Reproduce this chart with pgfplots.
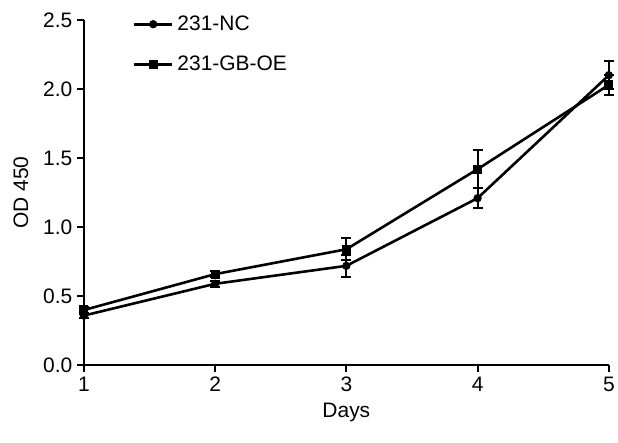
\documentclass[border=0pt]{standalone}
\usepackage{pgfplots}
\pgfplotsset{compat=1.18}
\usepackage{fontspec}
\setmainfont{Liberation Sans}
\begin{document}
\begin{tikzpicture}
\begin{axis}[
  scale only axis,
  width=526pt, height=346pt,
  xmin=1, xmax=5, ymin=0, ymax=2.5,
  axis x line*=bottom, axis y line*=left,
  axis line style={-, line width=2.2pt},
  tick align=outside,
  xtick pos=bottom, ytick pos=left,
  major tick length=7pt,
  every tick/.style={black, line width=2pt},
  xtick={1,2,3,4,5},
  ytick={0,0.5,1,1.5,2,2.5},
  /pgf/number format/assume math mode=true,
  yticklabel style={xshift=-1pt, /pgf/number format/fixed, /pgf/number format/fixed zerofill, /pgf/number format/precision=1},
  xticklabel style={yshift=-1pt},
  tick label style={font=\fontsize{21}{24}\selectfont},
  every axis x label/.style={at={(rel axis cs:0.5,0)}, anchor=center, yshift=-47pt, font=\fontsize{21}{24}\selectfont},
  every axis y label/.style={at={(rel axis cs:0,0.5)}, xshift=-63pt, anchor=center, rotate=90, font=\fontsize{21}{24}\selectfont},
  xlabel={Days},
  ylabel={OD 450},
  clip=false,
  legend style={draw=none, fill=none, at={(rel axis cs:0,1)}, anchor=north west,
    xshift=46pt, yshift=8pt,
    font=\fontsize{21}{24}\selectfont, row sep=20pt,
    /tikz/every odd column/.append style={column sep=2pt}},
  legend cell align=left,
  legend image code/.code={\draw[#1] (0pt,0pt) -- (38pt,0pt); \draw[#1, only marks] plot coordinates {(19pt,0pt)};},
  every axis plot/.append style={black, line width=2.6pt},
  error bars/y dir=both, error bars/y explicit,
  error bars/error mark options={rotate=90, mark size=5pt, line width=2pt},
  error bars/error bar style={line width=2pt},
]
\addplot[mark=*, mark size=2.8pt] coordinates {
  (1,0.36) +- (0,0.02)
  (2,0.59) +- (0,0.02)
  (3,0.72) +- (0,0.08)
  (4,1.21) +- (0,0.07)
  (5,2.10) +- (0,0.10)
};
\addlegendentry{231-NC}
\addplot[mark=square*, mark size=3.3pt] coordinates {
  (1,0.40) +- (0,0.02)
  (2,0.66) +- (0,0.02)
  (3,0.84) +- (0,0.08)
  (4,1.42) +- (0,0.14)
  (5,2.03) +- (0,0.07)
};
\addlegendentry{231-GB-OE}
\pgfplotsinvokeforeach{1,2,3,4,5}{\draw[black, line width=2pt] (axis cs:#1,0) -- ++(0pt,-7pt);}
\pgfplotsinvokeforeach{0,0.5,1,1.5,2,2.5}{\draw[black, line width=2pt] (axis cs:1,#1) -- ++(-7pt,0pt);}
\end{axis}
\path (current axis.south west) ++(-84pt,-77pt) coordinate (a);
\path (current axis.north east) ++(8pt,20pt) coordinate (b);
\path (a) rectangle (b);
\end{tikzpicture}
\end{document}
